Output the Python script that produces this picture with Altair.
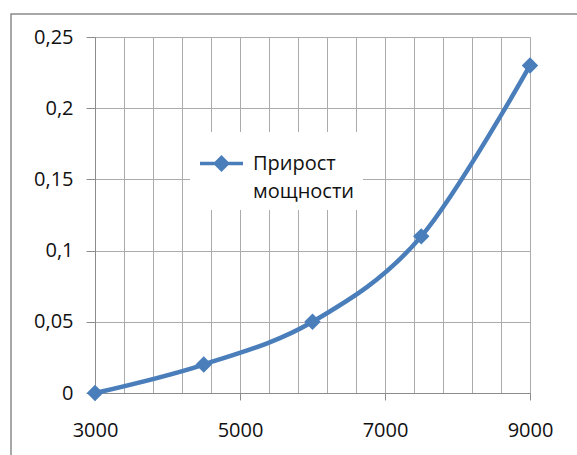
import altair as alt
import pandas as pd

# data
x_vals = [3000, 4500, 6000, 7500, 9000]
y_vals = [0.0, 0.02, 0.05, 0.11, 0.23]
series = ["Прирост мощности"] * len(x_vals)

x_grid = list(range(3000, 9001, 400))
y_ticks = [0, 0.05, 0.1, 0.15, 0.2, 0.25]

df = pd.DataFrame({"x": x_vals, "y": y_vals, "series": series})

FONT = "Open Sans"
BLUE = "#4A7EBB"
GRID = "#ABABAB"
AXIS = "#8C8C8C"
TXT = "#111111"
FS = 20

x_enc = alt.X(
    "x:Q",
    scale=alt.Scale(domain=[3000, 9000], nice=False, zero=False),
    axis=alt.Axis(
        values=x_grid,
        format="d",
        title=None,
        grid=True,
        gridColor=GRID,
        domainColor=AXIS,
        tickColor=AXIS,
        tickSize=7,
        tickOpacity=alt.condition("datum.value % 2000 === 1000", alt.value(1), alt.value(0)),
        labelExpr="datum.value % 2000 === 1000 ? datum.label : ''",
        labelFlush=False,
        labelPadding=20,
        labelFontSize=FS,
        labelFont=FONT,
        labelColor=TXT,
    ),
)
y_enc = alt.Y(
    "y:Q",
    scale=alt.Scale(domain=[0, 0.25], nice=False, zero=True),
    axis=alt.Axis(
        values=y_ticks,
        title=None,
        grid=True,
        gridColor=GRID,
        domainColor=AXIS,
        tickColor=AXIS,
        tickSize=9,
        labelExpr="replace(format(datum.value, '~g'), '.', ',')",
        labelFlush=False,
        labelPadding=13,
        labelFontSize=FS,
        labelFont=FONT,
        labelColor=TXT,
    ),
)

color_enc = alt.Color(
    "series:N",
    scale=alt.Scale(range=[BLUE]),
    legend=alt.Legend(
        title=None,
        orient="none",
        legendX=95,
        legendY=95,
        fillColor="white",
        padding=8,
        symbolType="M-1,0L1,0M0,-0.28L0.28,0L0,0.28L-0.28,0Z",
        symbolSize=1849,
        symbolStrokeWidth=3.5,
        symbolStrokeColor=BLUE,
        symbolFillColor=BLUE,
        labelExpr="split(datum.label, ' ')",
        labelFont=FONT,
        labelFontSize=FS,
        labelColor=TXT,
        labelOffset=8,
        labelLimit=300,
    ),
)

border = alt.Chart(alt.Data(values=[{}])).mark_rect(
    fillOpacity=0, stroke="#8A8A8A", strokeWidth=1.5
).encode(
    x=alt.value(-84), x2=alt.value(500), y=alt.value(-23), y2=alt.value(440)
)

base = alt.Chart(df)
line = base.mark_line(interpolate="cardinal", tension=0, strokeWidth=4.5, color=BLUE).encode(
    x=x_enc, y=y_enc, color=color_enc
)
points = base.mark_point(shape="diamond", filled=True, size=270, opacity=1, color=BLUE).encode(
    x=x_enc, y=y_enc, color=color_enc
)

chart = alt.layer(border, line, points).properties(
    width=435,
    height=356,
    autosize=alt.AutoSizeParams(type="none"),
    padding={"left": 95, "top": 37, "right": 47, "bottom": 62},
    background="white",
).configure_view(strokeOpacity=0).configure(style={"guide-label": {"lineHeight": 28}})

chart.save("out.html", embed_options={"renderer": "svg", "actions": False})
